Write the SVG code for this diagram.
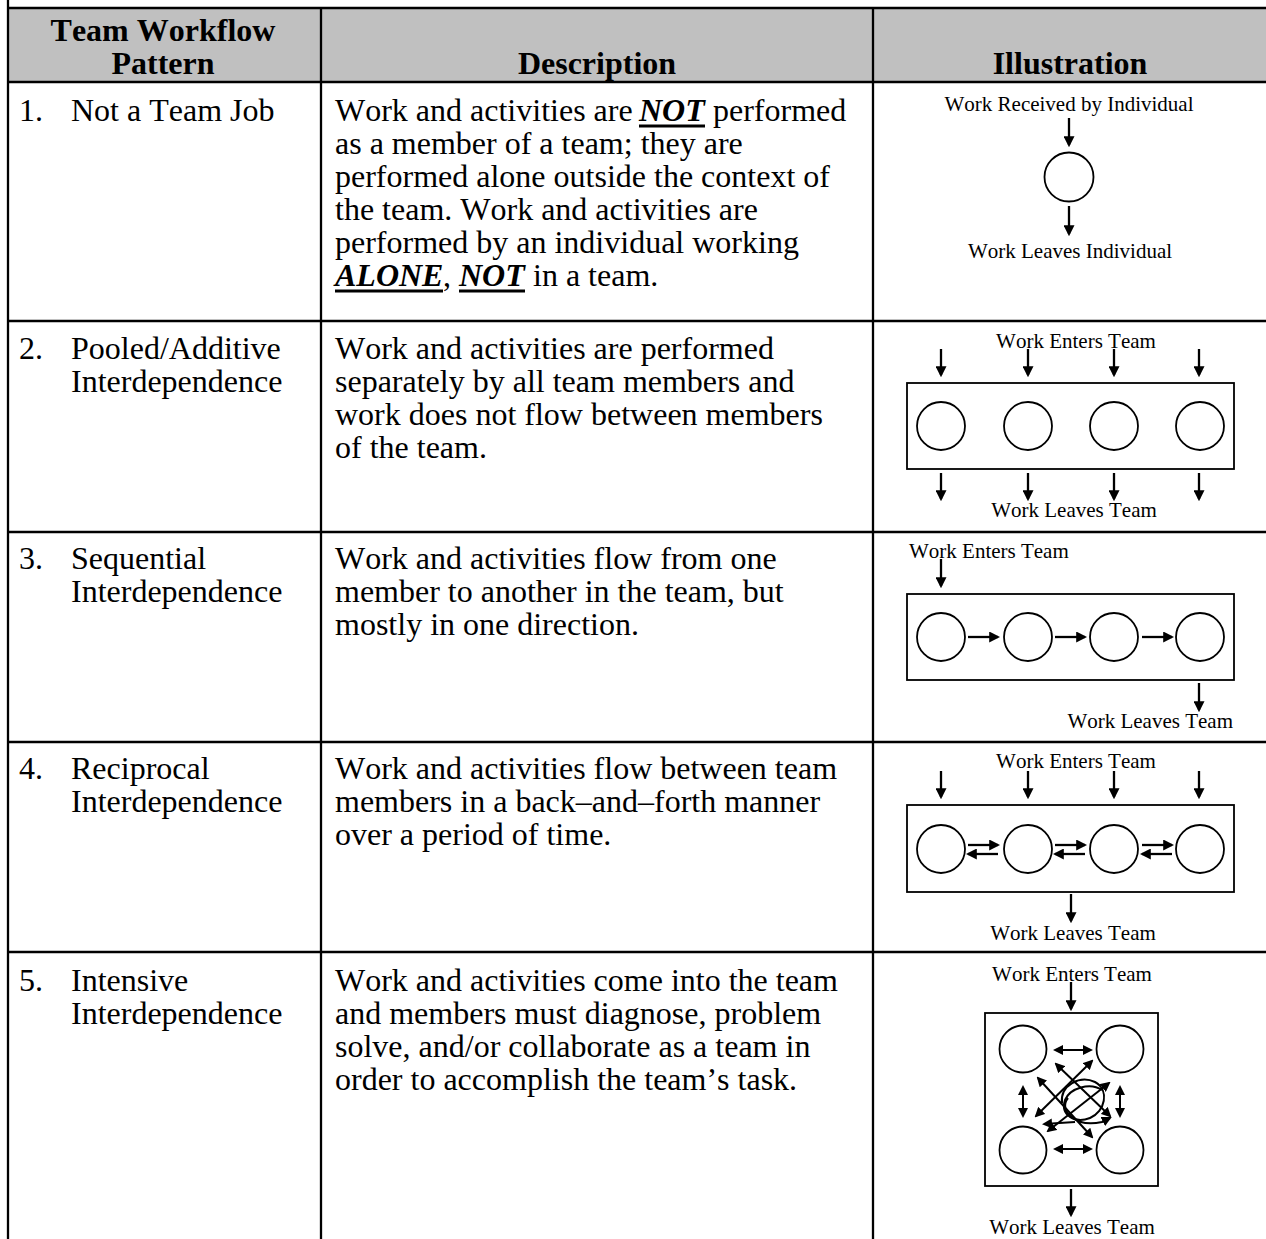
<svg xmlns="http://www.w3.org/2000/svg" width="1266" height="1239" viewBox="0 0 1266 1239">
<style>
text{font-family:"Liberation Serif","Times New Roman",serif;fill:#000;font-kerning:none}
.t{font-size:32px}
.b{font-weight:bold}
.bi{font-weight:bold;font-style:italic}
.s{font-size:21px}
.m{text-anchor:middle}
.e{text-anchor:end}
.grid{stroke:#000;stroke-width:2.3;fill:none}
.ul{stroke:#000;stroke-width:3}
.c{fill:#fff;stroke:#000;stroke-width:1.8}
.bx{fill:none;stroke:#000;stroke-width:1.8}
.cv{fill:none;stroke:#000;stroke-width:2}
.a{stroke:#000;stroke-width:2.3;fill:none;marker-end:url(#ah)}
.a2{stroke:#000;stroke-width:2;fill:none;marker-end:url(#ah2)}
.d2{stroke:#000;stroke-width:2;fill:none;marker-end:url(#ah2);marker-start:url(#ah2)}
</style>
<defs>
<marker id="ah" viewBox="0 0 10 10" refX="8" refY="5" markerWidth="11" markerHeight="11" markerUnits="userSpaceOnUse" orient="auto-start-reverse"><path d="M0,0 L10,5 L0,10 z" fill="#000"/></marker>
<marker id="ah2" viewBox="0 0 10 10" refX="8" refY="5" markerWidth="10" markerHeight="10" markerUnits="userSpaceOnUse" orient="auto-start-reverse"><path d="M0,0 L10,5 L0,10 z" fill="#000"/></marker>
</defs>

<g id="table">
<rect x="8" y="8" width="1260" height="74" fill="#c0c0c0"/>
<line class="grid" x1="8" y1="8" x2="1266" y2="8"/>
<line class="grid" x1="8" y1="82" x2="1266" y2="82"/>
<line class="grid" x1="8" y1="321" x2="1266" y2="321"/>
<line class="grid" x1="8" y1="532" x2="1266" y2="532"/>
<line class="grid" x1="8" y1="742" x2="1266" y2="742"/>
<line class="grid" x1="8" y1="952" x2="1266" y2="952"/>
<line class="grid" x1="8" y1="0" x2="8" y2="1239"/>
<line class="grid" x1="321" y1="8" x2="321" y2="1239"/>
<line class="grid" x1="873" y1="8" x2="873" y2="1239"/>
</g>

<g id="header">
<text class="t b m" x="163" y="41">Team Workflow</text>
<text class="t b m" x="163" y="74">Pattern</text>
<text class="t b m" x="597" y="74">Description</text>
<text class="t b m" x="1070" y="74">Illustration</text>
</g>

<g id="row1">
<text class="t" x="19" y="121">1.</text>
<text class="t" x="71" y="121">Not a Team Job</text>
<text class="t" x="335" y="121">Work and activities are</text>
<text class="t bi" x="639" y="121">NOT</text>
<text class="t" x="713" y="121">performed</text>
<line class="ul" x1="639" y1="126" x2="705" y2="126"/>
<text class="t" x="335" y="154">as a member of a team; they are</text>
<text class="t" x="335" y="187">performed alone outside the context of</text>
<text class="t" x="335" y="220">the team. Work and activities are</text>
<text class="t" x="335" y="253">performed by an individual working</text>
<text class="t bi" x="335" y="286">ALONE</text>
<text class="t" x="443" y="286">,</text>
<text class="t bi" x="459" y="286">NOT</text>
<text class="t" x="533" y="286">in a team.</text>
<line class="ul" x1="335" y1="291" x2="443" y2="291"/>
<line class="ul" x1="459" y1="291" x2="525" y2="291"/>
</g>
<g id="illus1">
<text class="s m" x="1069" y="111">Work Received by Individual</text>
<circle class="c" cx="1069" cy="177" r="24.5"/>
<text class="s m" x="1070" y="258">Work Leaves Individual</text>
</g>

<g id="row2">
<text class="t" x="19" y="359">2.</text>
<text class="t" x="71" y="359">Pooled/Additive</text>
<text class="t" x="71" y="392">Interdependence</text>
<text class="t" x="335" y="359">Work and activities are performed</text>
<text class="t" x="335" y="392">separately by all team members and</text>
<text class="t" x="335" y="425">work does not flow between members</text>
<text class="t" x="335" y="458">of the team.</text>
</g>
<g id="illus2">
<text class="s m" x="1076" y="348">Work Enters Team</text>
<rect class="bx" x="907" y="383" width="327" height="86"/>
<circle class="c" cx="941" cy="426" r="24"/>
<circle class="c" cx="1028" cy="426" r="24"/>
<circle class="c" cx="1114" cy="426" r="24"/>
<circle class="c" cx="1200" cy="426" r="24"/>
<text class="s m" x="1074" y="517">Work Leaves Team</text>
</g>

<g id="row3">
<text class="t" x="19" y="569">3.</text>
<text class="t" x="71" y="569">Sequential</text>
<text class="t" x="71" y="602">Interdependence</text>
<text class="t" x="335" y="569">Work and activities flow from one</text>
<text class="t" x="335" y="602">member to another in the team, but</text>
<text class="t" x="335" y="635">mostly in one direction.</text>
</g>
<g id="illus3">
<text class="s" x="909" y="558">Work Enters Team</text>
<rect class="bx" x="907" y="594" width="327" height="86"/>
<circle class="c" cx="941" cy="637" r="24"/>
<circle class="c" cx="1028" cy="637" r="24"/>
<circle class="c" cx="1114" cy="637" r="24"/>
<circle class="c" cx="1200" cy="637" r="24"/>
<text class="s e" x="1233" y="728">Work Leaves Team</text>
</g>

<g id="row4">
<text class="t" x="19" y="779">4.</text>
<text class="t" x="71" y="779">Reciprocal</text>
<text class="t" x="71" y="812">Interdependence</text>
<text class="t" x="335" y="779">Work and activities flow between team</text>
<text class="t" x="335" y="812">members in a back–and–forth manner</text>
<text class="t" x="335" y="845">over a period of time.</text>
</g>
<g id="illus4">
<text class="s m" x="1076" y="768">Work Enters Team</text>
<rect class="bx" x="907" y="805" width="327" height="87"/>
<circle class="c" cx="941" cy="849" r="24"/>
<circle class="c" cx="1028" cy="849" r="24"/>
<circle class="c" cx="1114" cy="849" r="24"/>
<circle class="c" cx="1200" cy="849" r="24"/>
<text class="s m" x="1073" y="940">Work Leaves Team</text>
</g>

<g id="row5">
<text class="t" x="19" y="991">5.</text>
<text class="t" x="71" y="991">Intensive</text>
<text class="t" x="71" y="1024">Interdependence</text>
<text class="t" x="335" y="991">Work and activities come into the team</text>
<text class="t" x="335" y="1024">and members must diagnose, problem</text>
<text class="t" x="335" y="1057">solve, and/or collaborate as a team in</text>
<text class="t" x="335" y="1090">order to accomplish the team’s task.</text>
</g>
<g id="illus5">
<text class="s m" x="1072" y="981">Work Enters Team</text>
<rect class="bx" x="985" y="1013" width="173" height="173"/>
<circle class="c" cx="1023" cy="1049" r="23.5"/>
<circle class="c" cx="1120" cy="1049" r="23.5"/>
<circle class="c" cx="1023" cy="1150" r="23.5"/>
<circle class="c" cx="1120" cy="1150" r="23.5"/>
<text class="s m" x="1072" y="1234">Work Leaves Team</text>
</g>

<g id="connectors">
<line class="a" x1="1069" y1="118" x2="1069" y2="145"/>
<line class="a" x1="1069" y1="206" x2="1069" y2="234"/>

<line class="a" x1="941" y1="349" x2="941" y2="375"/>
<line class="a" x1="1028" y1="349" x2="1028" y2="375"/>
<line class="a" x1="1114" y1="349" x2="1114" y2="375"/>
<line class="a" x1="1199" y1="349" x2="1199" y2="375"/>
<line class="a" x1="941" y1="473" x2="941" y2="499"/>
<line class="a" x1="1028" y1="473" x2="1028" y2="499"/>
<line class="a" x1="1114" y1="473" x2="1114" y2="499"/>
<line class="a" x1="1199" y1="473" x2="1199" y2="499"/>

<line class="a" x1="941" y1="559" x2="941" y2="586"/>
<line class="a" x1="968" y1="637" x2="998" y2="637"/>
<line class="a" x1="1055" y1="637" x2="1085" y2="637"/>
<line class="a" x1="1142" y1="637" x2="1172" y2="637"/>
<line class="a" x1="1199" y1="683" x2="1199" y2="710"/>

<line class="a" x1="941" y1="771" x2="941" y2="797"/>
<line class="a" x1="1028" y1="771" x2="1028" y2="797"/>
<line class="a" x1="1114" y1="771" x2="1114" y2="797"/>
<line class="a" x1="1199" y1="771" x2="1199" y2="797"/>
<line class="a" x1="968" y1="845" x2="998" y2="845"/>
<line class="a" x1="998" y1="854" x2="968" y2="854"/>
<line class="a" x1="1055" y1="845" x2="1085" y2="845"/>
<line class="a" x1="1085" y1="854" x2="1055" y2="854"/>
<line class="a" x1="1142" y1="845" x2="1172" y2="845"/>
<line class="a" x1="1172" y1="854" x2="1142" y2="854"/>
<line class="a" x1="1071" y1="894" x2="1071" y2="921"/>

<line class="a" x1="1071" y1="982" x2="1071" y2="1009"/>
<line class="d2" x1="1055" y1="1050" x2="1091" y2="1050"/>
<line class="d2" x1="1055" y1="1149" x2="1091" y2="1149"/>
<line class="d2" x1="1023" y1="1087" x2="1023" y2="1116"/>
<line class="d2" x1="1120" y1="1087" x2="1120" y2="1116"/>
<line class="d2" x1="1036" y1="1116" x2="1092" y2="1061"/>
<line class="d2" x1="1048" y1="1131" x2="1109" y2="1083"/>
<line class="d2" x1="1056" y1="1064" x2="1110" y2="1116"/>
<line class="d2" x1="1038" y1="1078" x2="1092" y2="1137"/>
<path class="a2" d="M1075,1122 L1044,1124"/>
<path class="cv" d="M1062,1103 C1060,1085 1080,1075 1095,1082 C1110,1090 1105,1112 1090,1118 C1075,1124 1060,1115 1065,1100 C1070,1088 1090,1082 1102,1090"/>
<path class="a2" d="M1068,1098 C1058,1110 1075,1128 1102,1122 L1110,1118"/>
<line class="a" x1="1071" y1="1189" x2="1071" y2="1215"/>
</g>
</svg>
